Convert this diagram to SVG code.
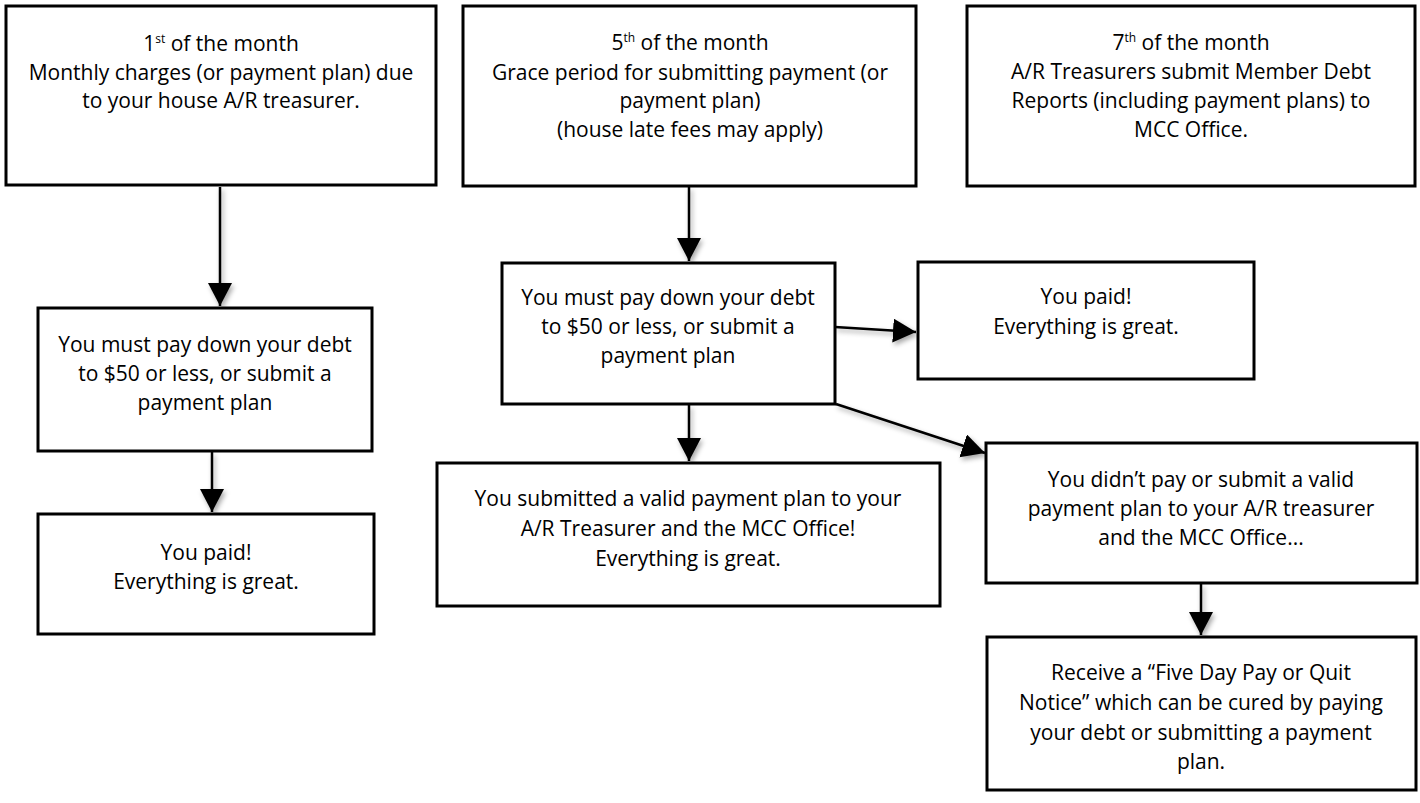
<svg xmlns="http://www.w3.org/2000/svg" width="1420" height="803" viewBox="0 0 1420 803">
<style>
.box{fill:#fff;stroke:#000;stroke-width:3}
.t{font-family:"Open Sans","Liberation Sans",sans-serif;font-size:21px;fill:#000;text-anchor:middle}
.sup{font-size:12px}
.c{stroke:#000;stroke-width:2.5;fill:none;marker-end:url(#ah)}
</style>
<defs>
<marker id="ah" markerUnits="userSpaceOnUse" markerWidth="25" markerHeight="25" refX="23" refY="12" orient="auto">
<path d="M0,0 L23,12 L0,24 Z" fill="#000"/>
</marker>
<filter id="sh" x="-20%" y="-20%" width="140%" height="140%">
<feDropShadow dx="2" dy="3" stdDeviation="2.5" flood-color="#000" flood-opacity="0.35"/>
</filter>
</defs>
<rect width="1420" height="803" fill="#fff"/>
<g id="connectors" filter="url(#sh)">
<path class="c" d="M220,187 L220,306"/>
<path class="c" d="M212,452 L212,512"/>
<path class="c" d="M689,187 L689,261"/>
<path class="c" d="M835,327 L916,332"/>
<path class="c" d="M689,405 L689,461"/>
<path class="c" d="M836,404 L985,453"/>
<path class="c" d="M1201,584 L1201,635"/>
</g>
<g id="n1">
<rect class="box" x="6" y="6" width="430" height="179"/>
<text class="t" x="221" y="51">1<tspan class="sup" baseline-shift="super">st</tspan> of the month</text>
<text class="t" x="221" y="80">Monthly charges (or payment plan) due</text>
<text class="t" x="221" y="108">to your house A/R treasurer.</text>
</g>
<g id="n2">
<rect class="box" x="463" y="6" width="453" height="180"/>
<text class="t" x="690" y="50">5<tspan class="sup" baseline-shift="super">th</tspan> of the month</text>
<text class="t" x="690" y="80">Grace period for submitting payment (or</text>
<text class="t" x="690" y="108">payment plan)</text>
<text class="t" x="690" y="137">(house late fees may apply)</text>
</g>
<g id="n3">
<rect class="box" x="967" y="6" width="448" height="180"/>
<text class="t" x="1191" y="50">7<tspan class="sup" baseline-shift="super">th</tspan> of the month</text>
<text class="t" x="1191" y="79">A/R Treasurers submit Member Debt</text>
<text class="t" x="1191" y="108">Reports (including payment plans) to</text>
<text class="t" x="1191" y="137">MCC Office.</text>
</g>
<g id="n4">
<rect class="box" x="38" y="308" width="334" height="143"/>
<text class="t" x="205" y="352">You must pay down your debt</text>
<text class="t" x="205" y="381">to $50 or less, or submit a</text>
<text class="t" x="205" y="410">payment plan</text>
</g>
<g id="n5">
<rect class="box" x="38" y="514" width="336" height="120"/>
<text class="t" x="206" y="560">You paid!</text>
<text class="t" x="206" y="589">Everything is great.</text>
</g>
<g id="n6">
<rect class="box" x="502" y="263" width="333" height="141"/>
<text class="t" x="668" y="305">You must pay down your debt</text>
<text class="t" x="668" y="334">to $50 or less, or submit a</text>
<text class="t" x="668" y="363">payment plan</text>
</g>
<g id="n7">
<rect class="box" x="918" y="262" width="336" height="117"/>
<text class="t" x="1086" y="304">You paid!</text>
<text class="t" x="1086" y="334">Everything is great.</text>
</g>
<g id="n8">
<rect class="box" x="437" y="463" width="503" height="143"/>
<text class="t" x="688" y="506">You submitted a valid payment plan to your</text>
<text class="t" x="688" y="536">A/R Treasurer and the MCC Office!</text>
<text class="t" x="688" y="566">Everything is great.</text>
</g>
<g id="n9">
<rect class="box" x="986" y="443" width="431" height="140"/>
<text class="t" x="1201" y="487">You didn’t pay or submit a valid</text>
<text class="t" x="1201" y="516">payment plan to your A/R treasurer</text>
<text class="t" x="1201" y="545">and the MCC Office...</text>
</g>
<g id="n10">
<rect class="box" x="987" y="637" width="429" height="153"/>
<text class="t" x="1201" y="680">Receive a “Five Day Pay or Quit</text>
<text class="t" x="1201" y="710">Notice” which can be cured by paying</text>
<text class="t" x="1201" y="740">your debt or submitting a payment</text>
<text class="t" x="1201" y="769">plan.</text>
</g>
</svg>
